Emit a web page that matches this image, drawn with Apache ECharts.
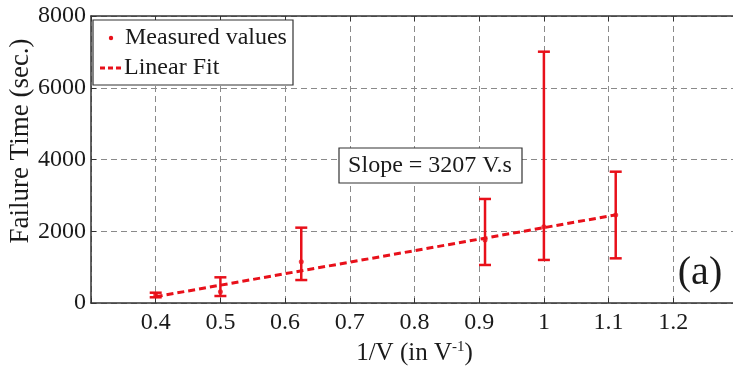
<!DOCTYPE html>
<html><head><meta charset="utf-8">
<script src="https://cdn.jsdelivr.net/npm/echarts@6/dist/echarts.min.js"></script>
<style>html,body{margin:0;padding:0;background:#fff}#c{width:733px;height:366px}</style>
</head><body><div id="c"></div>
<script>
const xVals = [0.4, 0.5, 0.625, 0.909, 1.0, 1.111];
const meanVals = [220, 315, 1150, 1756, 2127, 2453];
const lowVals = [159, 195, 640, 1060, 1200, 1245];
const highVals = [287, 716, 2100, 2900, 7005, 3660];
const fitX = [0.4, 1.111];
const fitY = [176, 2456];
const yTicks = [0, 2000, 4000, 6000, 8000];

const RED = '#e8101a';
const FONT = 'Liberation Serif';
const chart = echarts.init(document.getElementById('c'), null, {renderer: 'canvas'});
const errData = xVals.map((x, i) => [x, lowVals[i], highVals[i]]);
const option = {
  animation: false,
  grid: {left: 91, top: 16, width: 647, height: 287, show: false, containLabel: false, outerBoundsMode: 'none'},
  xAxis: [{
    type: 'value', min: 0.3, max: 1.3, interval: 0.1,
    axisLine: {show: true, lineStyle: {color: '#333', width: 1.5}},
    axisTick: {show: true, inside: true, length: 5, lineStyle: {color: '#333'}},
    splitLine: {show: true, lineStyle: {color: '#8a8a8a', type: [6, 4], width: 1}},
    axisLabel: {fontFamily: FONT, fontSize: 24, color: '#1a1a1a', margin: 8,
      formatter: v => (v < 0.35 || v > 1.25) ? '' : String(+v.toFixed(1))},
    name: '1/V (in V{sup|-1})', nameLocation: 'middle', nameGap: 35,
    nameTextStyle: {fontFamily: FONT, fontSize: 25, color: '#1a1a1a',
      rich: {sup: {fontFamily: FONT, fontSize: 15, color: '#1a1a1a', verticalAlign: 'top', padding: [0, 0, 12, 0]}}}
  }, {
    type: 'value', position: 'top', min: 0.3, max: 1.3, interval: 0.1,
    axisLine: {show: true, lineStyle: {color: '#333', width: 1.5}}, axisLabel: {show: false}, splitLine: {show: false},
    axisTick: {show: true, inside: true, length: 5, lineStyle: {color: '#333'}}
  }],
  yAxis: {
    type: 'value', min: 0, max: 8000, interval: 2000,
    axisLine: {show: true, lineStyle: {color: '#333', width: 1.5}},
    axisTick: {show: true, inside: true, length: 5, lineStyle: {color: '#333'}},
    splitLine: {show: true, lineStyle: {color: '#8a8a8a', type: [6, 4], width: 1}},
    axisLabel: {fontFamily: FONT, fontSize: 24, color: '#1a1a1a', margin: 5,
      formatter: v => yTicks.includes(v) ? String(v) : ''}
  },
  series: [{
    type: 'custom', name: 'err', data: errData, z: 3,
    renderItem: (params, api) => {
      const x = api.value(0);
      const lo = api.coord([x, api.value(1)]);
      const hi = api.coord([x, api.value(2)]);
      const w = 6;
      const st = {stroke: RED, lineWidth: 2.5};
      return {type: 'group', children: [
        {type: 'line', shape: {x1: lo[0], y1: lo[1], x2: hi[0], y2: hi[1]}, style: st},
        {type: 'line', shape: {x1: lo[0] - w, y1: lo[1], x2: lo[0] + w, y2: lo[1]}, style: st},
        {type: 'line', shape: {x1: hi[0] - w, y1: hi[1], x2: hi[0] + w, y2: hi[1]}, style: st}
      ]};
    }
  }, {
    type: 'line', name: 'Linear Fit', data: fitX.map((x, i) => [x, fitY[i]]), symbol: 'none', z: 4,
    lineStyle: {color: RED, width: 3, type: [7, 4]}
  }, {
    type: 'scatter', name: 'Measured values', data: xVals.map((x, i) => [x, meanVals[i]]),
    symbol: 'circle', symbolSize: 5, itemStyle: {color: RED}, z: 5
  }],
  graphic: [
    {type: 'rect', shape: {x: 93, y: 20, width: 200, height: 65}, style: {fill: '#fff', stroke: '#333', lineWidth: 1.2}, z: 10},
    {type: 'circle', shape: {cx: 111, cy: 38, r: 2.2}, style: {fill: RED}, z: 11},
    {type: 'line', shape: {x1: 100, y1: 68, x2: 123, y2: 68}, style: {stroke: RED, lineWidth: 3, lineDash: [5, 3]}, z: 11},
    {type: 'text', x: 125, y: 38, style: {text: 'Measured values', font: '24px "Liberation Serif"', fill: '#1a1a1a', textVerticalAlign: 'middle'}, z: 11},
    {type: 'text', x: 124, y: 68, style: {text: 'Linear Fit', font: '24px "Liberation Serif"', fill: '#1a1a1a', textVerticalAlign: 'middle'}, z: 11},
    {type: 'rect', shape: {x: 339, y: 148, width: 183, height: 35}, style: {fill: '#fff', stroke: '#333', lineWidth: 1.2}, z: 10},
    {type: 'text', x: 430, y: 166, style: {text: 'Slope = 3207 V.s', font: '24px "Liberation Serif"', fill: '#1a1a1a', textAlign: 'center', textVerticalAlign: 'middle'}, z: 11},
    {type: 'text', x: 700, y: 273, style: {text: '(a)', font: '40px "Liberation Serif"', fill: '#1a1a1a', textAlign: 'center', textVerticalAlign: 'middle'}, z: 11},
    {type: 'text', x: 21, y: 141, rotation: Math.PI / 2, style: {text: 'Failure Time (sec.)', font: '27px "Liberation Serif"', fill: '#1a1a1a', textAlign: 'center', textVerticalAlign: 'middle'}, z: 11}
  ]
};
chart.setOption(option);
</script></body></html>
